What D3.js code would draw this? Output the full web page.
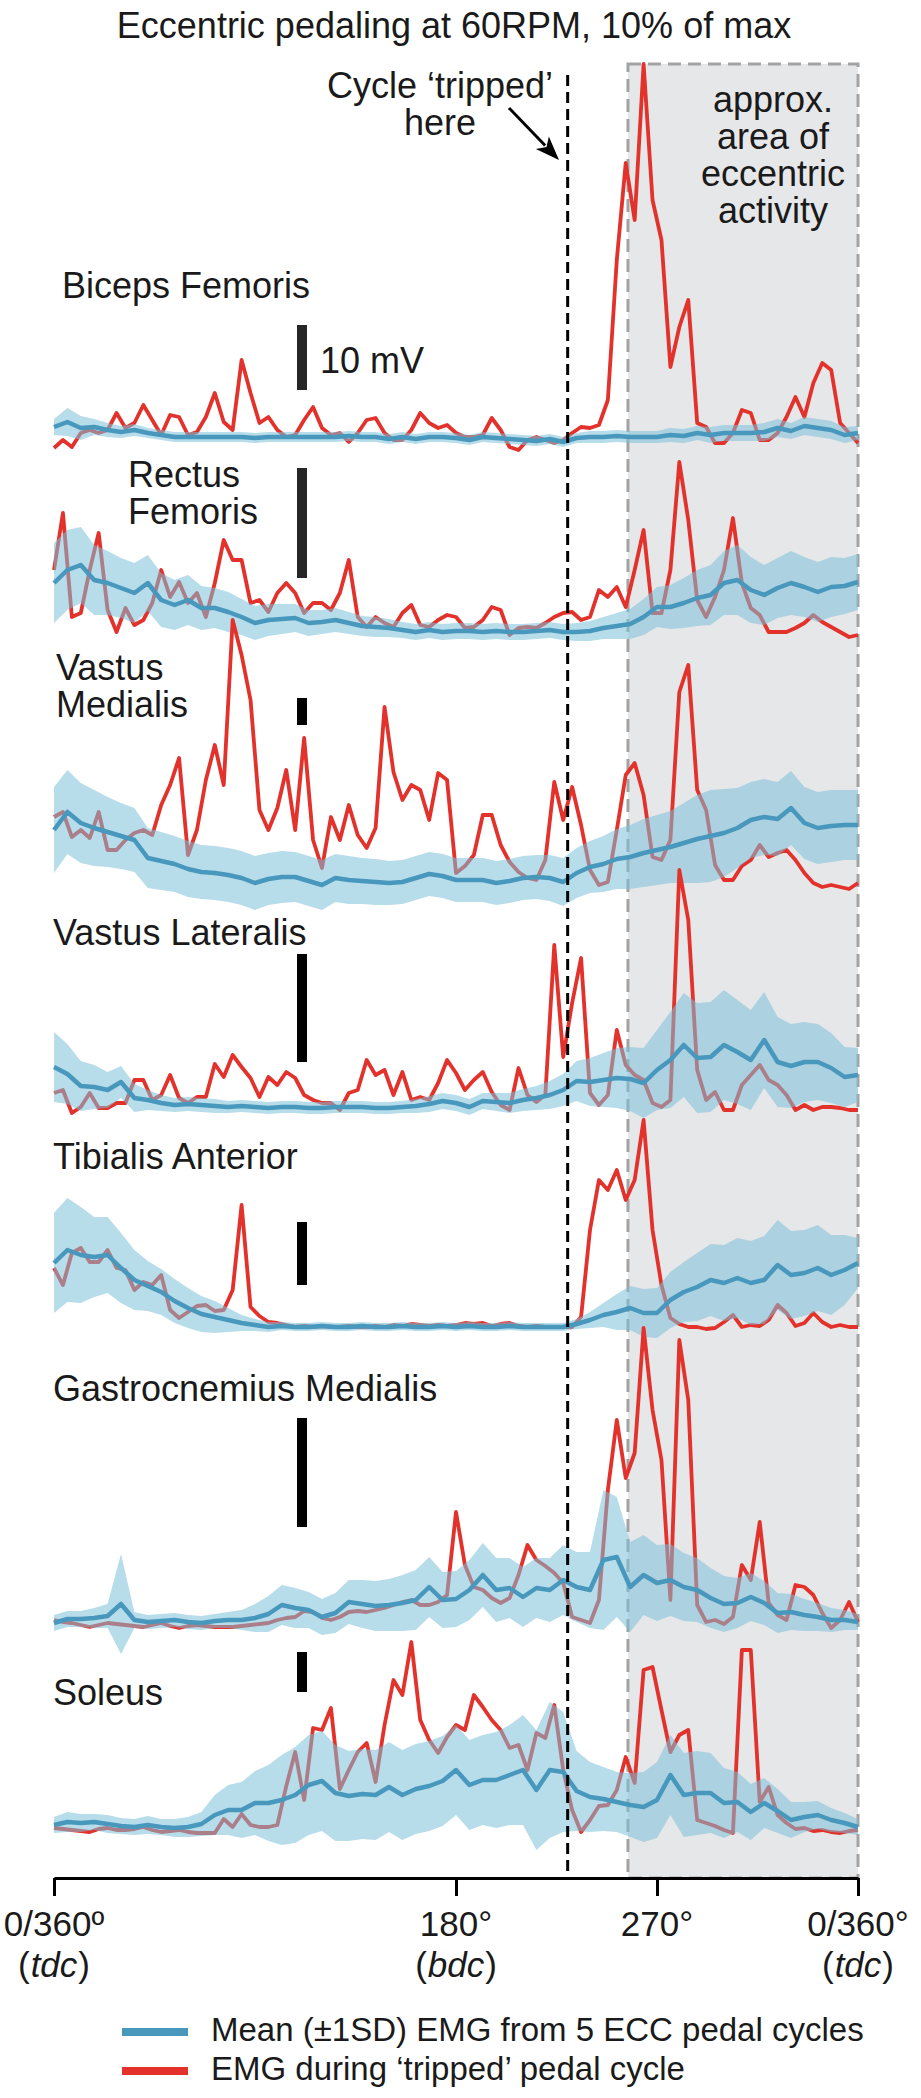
<!DOCTYPE html>
<html>
<head>
<meta charset="utf-8">
<script src="https://cdn.jsdelivr.net/npm/d3@7"></script>
<style>
  body { margin: 0; background: #fff; }
  text { font-family: "Liberation Sans", Arial, Helvetica, sans-serif; fill: #1a1a1a; }
</style>
</head>
<body>
<svg id="chart" width="921" height="2098"></svg>
<script>
// ---- data ----
// crank angle grids (deg): tripped trace every 4 deg, mean/SD every 6 deg
const tripStep = 4;
const meanStep = 6;

// EMG amplitude (a.u.) during the 'tripped' pedal cycle
const trippedBF = [2,10,3,17,20,17,20,37,22,27, 45,30,15,35,33,15,18,33,57,28, 20,90,57,27,33,20,13,15,30,43, 22,15,17,8,17,30,32,17,10,10, 20,37,27,22,25,17,13,13,15,32, 20,3,0,10,13,10,7,10,17,23, 22,25,50,190,287,230,386,250,210,83, 123,150,27,23,7,7,17,40,37,10, 10,17,33,53,33,67,87,80,27,17, 7];
const trippedRF = [70,127,23,27,70,107,30,8,32,15, 20,37,70,43,58,37,47,23,57,100, 80,80,37,40,28,47,57,47,27,37, 37,30,47,80,23,13,23,17,13,27, 35,15,13,20,25,23,12,13,20,33, 30,5,12,13,12,17,23,27,28,20, 23,50,43,53,33,70,110,27,27,70, 178,120,40,23,43,70,122,57,32,25, 8,8,8,12,17,25,18,13,8,3, 5];
const trippedVM = [75,80,55,62,54,80,42,42,52,59, 62,57,87,107,134,37,62,112,147,107, 272,237,192,82,62,84,122,62,154,52, 24,75,52,87,57,44,64,185,120,92, 107,102,72,119,112,19,26,37,77,77, 47,30,20,14,12,32,110,72,105,67, 22,7,10,62,117,129,97,35,32,52, 200,227,102,82,27,12,12,26,32,47, 35,39,42,32,19,9,5,7,5,3, 9];
const trippedVL = [20,23,0,6,20,5,5,10,10,33, 33,13,18,38,15,10,16,16,49,36, 58,46,35,16,36,28,41,35,18,13, 10,10,3,20,23,53,38,43,18,41, 13,16,13,30,53,40,23,33,41,21, 8,3,45,18,11,18,168,56,110,155, 20,8,18,83,48,38,33,10,6,13, 243,193,43,13,21,3,3,28,38,48, 33,28,18,3,8,3,6,6,5,3, 3];
const trippedTA = [62,45,77,82,68,68,80,62,60,40, 48,45,55,20,12,18,24,25,19,20, 40,125,23,14,8,7,5,3,4,3, 4,3,3,4,3,3,4,3,5,4, 6,5,4,5,4,5,7,6,7,4, 6,7,4,3,4,3,3,3,3,13, 100,150,140,160,130,150,210,100,45,12, 6,3,3,1,2,8,15,3,5,4, 10,25,17,4,7,17,8,3,5,3, 3];
const trippedGM = [8,6,5,3,1,3,5,4,3,2, 1,3,5,2,0,2,3,2,1,1, 1,2,3,4,5,8,10,11,17,16, 10,8,11,16,17,16,18,20,23,26, 28,23,23,26,33,116,63,41,38,30, 25,30,53,83,68,62,55,45,11,8, 5,28,138,208,150,175,300,218,168,28, 288,228,23,6,8,4,11,63,48,106, 25,13,8,43,41,33,15,0,8,26, 6];
const trippedSOL = [5,4,3,2,1,4,5,3,3,4, 6,3,1,2,3,1,0,0,0,14, 6,19,8,6,6,8,47,81,33,105, 103,125,44,63,81,90,51,108,153,138, 191,113,93,80,96,108,103,138,126,113, 103,85,88,63,100,95,128,63,23,1, 13,27,28,43,76,50,163,166,123,81, 98,103,13,10,7,3,0,183,183,31, 46,18,10,4,5,2,3,1,0,2, 3];

// mean EMG from 5 ECC pedal cycles
const meanBF = [23,28,22,23,20,18,20,17,15,13, 13,13,13,13,13,12,13,13,13,13, 13,13,14,13,13,11,13,11,13,13, 12,10,13,12,11,10,9,11,8,12, 13,13,14,13,13,13,15,14,17,15, 17,17,17,18,22,19,24,22,20,15, 17];
const meanRF = [57,70,75,60,57,52,47,57,40,35, 40,32,32,28,23,17,20,21,22,17, 18,20,17,14,13,12,10,8,10,8, 9,9,8,9,8,8,9,10,8,8, 9,12,14,16,23,33,33,37,42,45, 57,60,50,45,52,57,53,48,53,54, 58];
const meanVM = [62,80,69,64,60,56,52,34,31,28, 23,20,19,17,14,9,13,15,15,11, 7,14,12,11,10,9,10,14,18,16, 12,12,12,9,11,14,15,14,10,19, 25,28,33,35,39,42,45,49,53,56, 59,64,72,75,73,84,69,64,66,67, 67];
const meanVL = [46,39,27,26,23,31,15,13,10,8, 9,8,7,6,7,6,5,6,6,5, 5,6,6,6,5,5,6,7,9,12, 10,6,12,11,10,13,15,18,23,32, 31,33,35,34,30,43,53,68,55,56, 68,61,53,73,51,47,51,51,45,36, 38];
const meanTA = [67,80,75,73,75,62,50,44,38,29, 22,16,13,10,7,5,3,4,3,3, 4,3,3,4,3,3,4,3,3,4, 3,4,3,3,4,3,3,3,3,6, 10,15,18,22,17,17,30,38,43,50, 47,52,47,50,65,55,57,62,55,60, 67];
const meanGM = [5,9,9,10,12,24,8,6,7,8, 6,5,7,8,8,10,14,23,20,18, 11,15,26,24,22,23,25,28,41,28, 29,38,53,38,40,31,40,38,48,41, 38,68,71,41,53,45,48,41,38,30, 24,25,31,25,15,16,13,11,8,8, 6];
const meanSOL = [8,11,10,11,9,7,6,8,6,5, 6,9,18,23,23,30,30,33,38,48, 52,40,37,39,38,46,38,44,47,52, 63,48,53,53,58,63,43,63,61,42, 36,34,31,28,26,33,58,38,40,40, 30,31,21,30,22,13,16,18,13,10, 6];

// ±1SD of the 5 ECC cycles
const sdBF = [8,14,12,8,7,6,6,5,5,5, 5,5,5,5,5,5,5,5,5,5, 5,5,5,5,5,5,5,5,5,5, 5,5,5,5,5,5,5,5,5,5, 6,6,6,6,6,6,7,7,7,8, 8,8,8,9,9,8,9,9,9,8, 7];
const sdRF = [40,40,38,35,32,30,30,28,27,25, 25,22,20,20,18,17,16,15,14,13, 12,12,11,10,10,9,8,8,8,8, 8,8,8,8,8,8,8,8,8,9, 10,11,13,15,18,20,22,25,28,30, 32,35,33,30,30,32,30,30,30,28, 28];
const sdVM = [43,42,40,38,35,33,32,30,29,28, 28,27,27,27,27,27,26,26,25,25, 25,24,24,23,23,22,22,22,22,22, 22,22,22,22,22,22,22,23,24,25, 26,28,30,32,34,35,36,40,44,46, 44,40,38,38,37,37,36,36,36,35, 35];
const sdVL = [35,30,25,22,18,16,14,10,8,7, 7,7,7,6,6,6,6,6,6,6, 6,6,6,6,6,6,6,7,8,8, 8,8,8,9,10,11,12,14,16,20, 24,27,30,32,35,40,48,52,55,55, 55,52,50,48,45,42,40,38,35,30, 27];
const sdTA = [50,52,48,40,38,35,30,25,23,22, 20,18,16,12,8,6,5,4,4,4, 4,4,4,4,4,4,4,4,4,4, 4,4,4,4,4,4,4,4,4,5, 8,12,18,22,24,25,28,30,34,36, 38,40,42,44,45,44,43,43,40,35, 25];
const sdGM = [8,8,8,10,12,50,8,7,7,7, 7,7,7,8,10,14,18,20,20,18, 18,20,22,24,25,26,28,30,30,28, 28,30,32,32,30,30,30,32,35,35, 38,70,60,45,40,38,36,34,32,30, 28,25,24,22,20,18,16,14,12,10, 8];
const sdSOL = [8,10,9,8,9,8,8,9,8,9, 10,12,20,25,28,32,38,45,48,50, 50,48,45,45,45,45,45,45,45,45, 45,45,45,48,50,55,60,68,60,40, 35,32,30,32,35,38,40,42,42,40, 35,30,28,25,22,18,15,14,12,10, 8];

// 10 mV scale bar length in the same amplitude units
const barSize = [65, 110, 27, 108, 63, 109, 40];

const muscleNames = [["Biceps Femoris"], ["Rectus", "Femoris"], ["Vastus", "Medialis"],
  ["Vastus Lateralis"], ["Tibialis Anterior"], ["Gastrocnemius Medialis"], ["Soleus"]];

const tickAngles = [0, 180, 270, 360];
const tickLabels = [["0/360º", "tdc"], ["180°", "bdc"], ["270°", null], ["0/360°", "tdc"]];

const trippedAngle = 230;          // cycle 'tripped' here
const eccentricZone = [257, 360];  // approx. area of eccentric activity

// ---- layout ----
const panelBase = [450, 640, 892, 1113, 1330, 1628, 1833];
const labelPos = [[62, 298], [128, 487], [56, 680], [53, 945], [53, 1169], [53, 1401], [53, 1705]];
const barBottom = [60, 62, 167, 51, 45, 101, 141];

const RED = "#e2322b", BLUE = "#4898bd", BAND = "#7cc0d8";

const svg = d3.select("#chart");
const x = d3.scaleLinear().domain([0, 360]).range([54, 858]);
const axisY = 1878;

// grey eccentric zone
svg.append("rect")
  .attr("x", x(eccentricZone[0]))
  .attr("y", 64)
  .attr("width", x(eccentricZone[1]) - x(eccentricZone[0]))
  .attr("height", axisY - 64)
  .attr("fill", "#e6e7e9")
  .attr("stroke", "#a3a3a3")
  .attr("stroke-width", 3)
  .attr("stroke-dasharray", "13,7");

// panels
const panels = [
  { red: trippedBF, mean: meanBF, sd: sdBF },
  { red: trippedRF, mean: meanRF, sd: sdRF },
  { red: trippedVM, mean: meanVM, sd: sdVM },
  { red: trippedVL, mean: meanVL, sd: sdVL },
  { red: trippedTA, mean: meanTA, sd: sdTA },
  { red: trippedGM, mean: meanGM, sd: sdGM },
  { red: trippedSOL, mean: meanSOL, sd: sdSOL }
];

panels.forEach((p, k) => {
  const base = panelBase[k];
  const y = d3.scaleLinear().domain([0, 100]).range([base, base - 100]);
  const g = svg.append("g");

  // muscle label, one text per line
  muscleNames[k].forEach((line, j) => {
    g.append("text")
      .attr("x", labelPos[k][0])
      .attr("y", labelPos[k][1] + j * 37)
      .style("font-size", "36px")
      .text(line);
  });

  // scale bar
  g.append("line")
    .attr("x1", 302).attr("x2", 302)
    .attr("y1", y(barBottom[k])).attr("y2", y(barBottom[k] + barSize[k]))
    .attr("stroke", k < 2 ? "#262626" : "#000")
    .attr("stroke-width", 10);

  // tripped cycle
  g.append("path")
    .datum(p.red)
    .attr("fill", "none")
    .attr("stroke", RED)
    .attr("stroke-width", 3.8)
    .attr("stroke-linejoin", "round")
    .attr("d", d3.line().x((d, i) => x(i * tripStep)).y(d => y(d)));

  // ±1SD band
  g.append("path")
    .datum(p.mean)
    .attr("fill", BAND)
    .attr("fill-opacity", 0.55)
    .attr("d", d3.area()
      .x((d, i) => x(i * meanStep))
      .y0((d, i) => y(d - p.sd[i]))
      .y1((d, i) => y(d + p.sd[i])));

  // mean
  g.append("path")
    .datum(p.mean)
    .attr("fill", "none")
    .attr("stroke", BLUE)
    .attr("stroke-width", 4.5)
    .attr("stroke-linejoin", "round")
    .attr("d", d3.line().x((d, i) => x(i * meanStep)).y(d => y(d)));
});

svg.append("text")
  .attr("x", 320).attr("y", 373)
  .style("font-size", "36px")
  .text("10 mV");

// tripped marker
svg.append("line")
  .attr("x1", x(trippedAngle)).attr("x2", x(trippedAngle))
  .attr("y1", 75).attr("y2", axisY)
  .attr("stroke", "#000")
  .attr("stroke-width", 3)
  .attr("stroke-dasharray", "11,6");

// axis
const axis = svg.append("g")
  .attr("transform", `translate(0,${axisY})`)
  .call(d3.axisBottom(x).tickValues(tickAngles).tickSize(18).tickSizeOuter(0).tickFormat(""));
axis.select(".domain").attr("stroke-width", 3);
axis.selectAll(".tick line").attr("stroke-width", 3);

tickAngles.forEach((a, i) => {
  svg.append("text")
    .attr("x", x(a)).attr("y", 1936)
    .attr("text-anchor", "middle")
    .style("font-size", "35px")
    .text(tickLabels[i][0]);
  if (tickLabels[i][1]) {
    // "(tdc)" with the letters in italics, laid out as three texts side by side
    const parts = [["(", "normal"], [tickLabels[i][1], "italic"], [")", "normal"]];
    const nodes = parts.map(([s, st]) => svg.append("text")
      .attr("y", 1977)
      .style("font-size", "35px")
      .style("font-style", st)
      .text(s));
    const w = nodes.map(n => n.node().getComputedTextLength());
    let cx = x(a) - d3.sum(w) / 2 - 1;
    nodes.forEach((n, j) => { n.attr("x", cx); cx += w[j] + 1; });
  }
});

// title
svg.append("text")
  .attr("x", 454).attr("y", 38)
  .attr("text-anchor", "middle")
  .style("font-size", "36px")
  .text("Eccentric pedaling at 60RPM, 10% of max");

// annotation: cycle tripped
svg.append("text").attr("x", 440).attr("y", 98).attr("text-anchor", "middle")
  .style("font-size", "36px").text("Cycle ‘tripped’");
svg.append("text").attr("x", 440).attr("y", 135).attr("text-anchor", "middle")
  .style("font-size", "36px").text("here");

const a0 = [509, 108], a1 = [559, 160];
const ang = Math.atan2(a1[1] - a0[1], a1[0] - a0[0]);
const headLen = 24, headW = 9;
const hb = [a1[0] - headLen * Math.cos(ang), a1[1] - headLen * Math.sin(ang)];
svg.append("line")
  .attr("x1", a0[0]).attr("y1", a0[1]).attr("x2", hb[0] + 4 * Math.cos(ang)).attr("y2", hb[1] + 4 * Math.sin(ang))
  .attr("stroke", "#000").attr("stroke-width", 3);
svg.append("path")
  .attr("d", `M${a1[0]},${a1[1]}L${hb[0] - headW * Math.sin(ang)},${hb[1] + headW * Math.cos(ang)}L${hb[0] + 6 * Math.cos(ang)},${hb[1] + 6 * Math.sin(ang)}L${hb[0] + headW * Math.sin(ang)},${hb[1] - headW * Math.cos(ang)}Z`)
  .attr("fill", "#000");

// annotation: eccentric area
["approx.", "area of", "eccentric", "activity"].forEach((s, i) => {
  svg.append("text")
    .attr("x", 773).attr("y", 112 + i * 37)
    .attr("text-anchor", "middle")
    .style("font-size", "36px")
    .text(s);
});

// legend
const legend = [
  { color: BLUE, label: "Mean (±1SD) EMG from 5 ECC pedal cycles", y: 2032 },
  { color: RED, label: "EMG during ‘tripped’ pedal cycle", y: 2071 }
];
legend.forEach(l => {
  svg.append("line")
    .attr("x1", 122).attr("x2", 188)
    .attr("y1", l.y).attr("y2", l.y)
    .attr("stroke", l.color)
    .attr("stroke-width", 8);
  svg.append("text")
    .attr("x", 211).attr("y", l.y + 9)
    .style("font-size", "33px")
    .text(l.label);
});
</script>
</body>
</html>
